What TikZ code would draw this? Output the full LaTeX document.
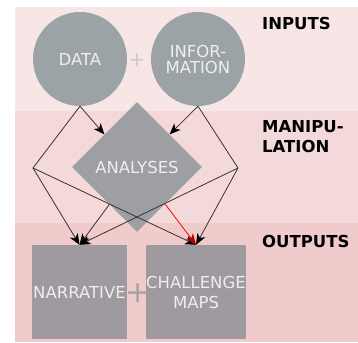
\documentclass[tikz,border=0pt]{standalone}
\usepackage{fontspec}
\setmainfont{DejaVu Sans}
\usetikzlibrary{arrows.meta,shapes.geometric}

\definecolor{bandtop}{HTML}{F8E5E6}
\definecolor{bandmid}{HTML}{F3D9DA}
\definecolor{bandbot}{HTML}{EFCBCC}
\definecolor{circfill}{HTML}{9BA3A6}
\definecolor{diamfill}{HTML}{9D9FA2}
\definecolor{boxfill}{HTML}{9E9A9F}
\definecolor{shapefg}{HTML}{EEEEEE}
\definecolor{linkcol}{HTML}{3B3131}
\definecolor{pluslight}{HTML}{C8C8C8}
\definecolor{plusdark}{HTML}{A3A3A3}

\begin{document}
\begin{tikzpicture}[x=1pt,y=-1pt,>={Stealth[length=11pt,width=9pt,inset=3pt,black]},
    shapetext/.style={text=shapefg,font=\fontsize{16.5}{16}\selectfont,align=center,inner sep=0pt},
    circ/.style={shape=circle,fill=circfill,minimum size=94pt,shapetext},
    diam/.style={shape=diamond,fill=diamfill,minimum width=130pt,minimum height=130pt,shapetext},
    box/.style={shape=rectangle,fill=boxfill,minimum height=94pt,shapetext},
    plus/.style={inner sep=0pt},
    link/.style={draw=linkcol,line width=0.8pt},
    hdr/.style={font=\bfseries\fontsize{16.5}{20}\selectfont,anchor=west,align=left,inner sep=0pt}]
    \useasboundingbox (0,0) rectangle (358,342);
    % bands
    \fill[bandtop] (15,7) rectangle (358,111);
    \fill[bandmid] (15,111) rectangle (358,223);
    \fill[bandbot] (15,223) rectangle (358,342);
    % shapes
    \node[circ] (data) at (80,59) {DATA};
    \node[circ] (info) at (198,59) {INFOR-\\MATION};
    \node[diam] (analyses) at (137,167) {ANALYSES};
    \node[box,minimum width=95pt] (narrative) at (79.5,292) {NARRATIVE};
    \node[box,minimum width=92pt] (challenge) at (196,292) {CHALLENGE\\[4pt]MAPS};
    \node[plus,text=pluslight,font=\fontsize{20}{20}\selectfont] (plusin) at (137,60) {+};
    \node[plus,text=plusdark,font=\fontsize{30}{30}\selectfont] (plusout) at (138,293) {+};
    \coordinate (lbend) at (33,168);
    \coordinate (rbend) at (238,168);
    % connectors
    \draw[link,->] (data.south) -- (analyses.north west);
    \draw[link,->] (info.south) -- (analyses.north east);
    \draw[link] (data.south) -- (lbend);
    \draw[link] (info.south) -- (rbend);
    \draw[link,->] (lbend) -- (narrative.north);
    \draw[link,->] (lbend) -- (challenge.north);
    \draw[link,->] (rbend) -- (narrative.north);
    \draw[link,->] (rbend) -- (challenge.north);
    \draw[link,->] (analyses) -- (narrative.north);
    \draw[link,draw=red,-{Stealth[length=11pt,width=9pt,inset=3pt,red!70!black]}] (analyses) -- (challenge.north);
    % labels
    \node[hdr] (inputs) at (262,23) {INPUTS};
    \node[hdr] (manip) at (262,137) {MANIPU-\\LATION};
    \node[hdr] (outputs) at (262,241) {OUTPUTS};
\end{tikzpicture}
\end{document}
